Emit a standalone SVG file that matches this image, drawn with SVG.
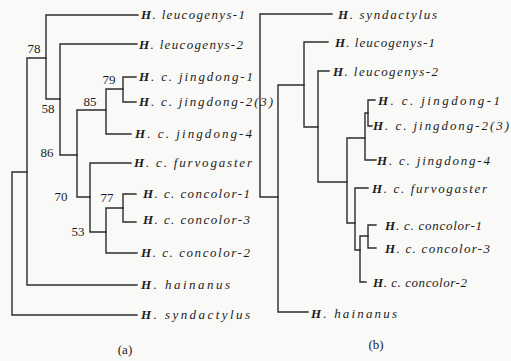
<svg xmlns="http://www.w3.org/2000/svg" width="511" height="361" viewBox="0 0 511 361">
  <style>
    .bg { fill: #f9f9f7; }
    .br { fill: none; stroke: #2b2b2b; stroke-width: 1.4; stroke-linecap: square; }
    .lab { font-family: "Liberation Serif", "Times New Roman", serif; font-style: italic; font-size: 13px; fill: #1c1c1c; }
    .lab .g { font-weight: bold; }
    .sup { font-family: "Liberation Serif", "Times New Roman", serif; font-size: 13px; fill: #1c1c1c; text-anchor: middle; }
    .cap { font-family: "Liberation Serif", "Times New Roman", serif; font-size: 13px; fill: #1c1c1c; text-anchor: middle; }
  </style>
  <rect class="bg" x="0" y="0" width="511" height="361"/>

  <!-- tree (a): branches -->
  <g id="connectors-a" class="br">
    <path d="M12,172 V315 H137 M12,172 H27"/>
    <path d="M27,58 V285 H137 M27,58 H46"/>
    <path d="M46,15 V99 H60 M46,15 H138"/>
    <path d="M60,44 V155 H77 M60,44 H137"/>
    <path d="M77,110 V197 H90 M77,110 H106"/>
    <path d="M106,89 V134 H131 M106,89 H123"/>
    <path d="M123,77 V102 H136 M123,77 H136"/>
    <path d="M90,163 V232 H106 M90,163 H131"/>
    <path d="M106,208 V253 H137 M106,208 H123"/>
    <path d="M123,194 V222 H136 M123,194 H136"/>
  </g>

  <!-- tree (a): support values -->
  <g id="support-a">
    <text class="sup" x="34" y="53">78</text>
    <text class="sup" x="48" y="113">58</text>
    <text class="sup" x="109" y="84">79</text>
    <text class="sup" x="90" y="106">85</text>
    <text class="sup" x="47" y="157">86</text>
    <text class="sup" x="61" y="201">70</text>
    <text class="sup" x="107" y="202">77</text>
    <text class="sup" x="78" y="236">53</text>
  </g>

  <!-- tree (a): leaves -->
  <g id="a-leucogenys-1"><text class="lab" x="141" y="19" textLength="104" lengthAdjust="spacing"><tspan class="g">H</tspan>. leucogenys-1</text></g>
  <g id="a-leucogenys-2"><text class="lab" x="139" y="49" textLength="104" lengthAdjust="spacing"><tspan class="g">H</tspan>. leucogenys-2</text></g>
  <g id="a-jingdong-1"><text class="lab" x="139" y="81" textLength="114" lengthAdjust="spacing"><tspan class="g">H</tspan>. c. jingdong-1</text></g>
  <g id="a-jingdong-2"><text class="lab" x="139" y="106" textLength="134" lengthAdjust="spacing"><tspan class="g">H</tspan>. c. jingdong-2(3)</text></g>
  <g id="a-jingdong-4"><text class="lab" x="135" y="138" textLength="117" lengthAdjust="spacing"><tspan class="g">H</tspan>. c. jingdong-4</text></g>
  <g id="a-furvogaster"><text class="lab" x="134" y="167" textLength="118" lengthAdjust="spacing"><tspan class="g">H</tspan>. c. furvogaster</text></g>
  <g id="a-concolor-1"><text class="lab" x="143" y="198" textLength="107" lengthAdjust="spacing"><tspan class="g">H</tspan>. c. concolor-1</text></g>
  <g id="a-concolor-3"><text class="lab" x="143" y="224" textLength="107" lengthAdjust="spacing"><tspan class="g">H</tspan>. c. concolor-3</text></g>
  <g id="a-concolor-2"><text class="lab" x="141" y="257" textLength="109" lengthAdjust="spacing"><tspan class="g">H</tspan>. c. concolor-2</text></g>
  <g id="a-hainanus"><text class="lab" x="141" y="289" textLength="89" lengthAdjust="spacing"><tspan class="g">H</tspan>. hainanus</text></g>
  <g id="a-syndactylus"><text class="lab" x="141" y="319" textLength="109" lengthAdjust="spacing"><tspan class="g">H</tspan>. syndactylus</text></g>
  <text class="cap" x="125" y="354">(a)</text>

  <!-- tree (b): branches -->
  <g id="connectors-b" class="br">
    <path d="M260,14 V197 H278 M260,14 H332"/>
    <path d="M278,85 V312 H308 M278,85 H304"/>
    <path d="M304,42 V127 H318 M304,42 H328"/>
    <path d="M318,71 V182 H347 M318,71 H329"/>
    <path d="M347,138 V223 H355 M347,138 H365"/>
    <path d="M365,113 V160 H376 M365,113 H368"/>
    <path d="M368,100 V126 H372 M368,100 H375"/>
    <path d="M355,188 V250 H360 M355,188 H368"/>
    <path d="M360,236 V282 H366 M360,236 H368"/>
    <path d="M368,225 V248 H376 M368,225 H376"/>
  </g>

  <!-- tree (b): leaves -->
  <g id="b-syndactylus"><text class="lab" x="338" y="19" textLength="99" lengthAdjust="spacing"><tspan class="g">H</tspan>. syndactylus</text></g>
  <g id="b-leucogenys-1"><text class="lab" x="335" y="47" textLength="100" lengthAdjust="spacing"><tspan class="g">H</tspan>. leucogenys-1</text></g>
  <g id="b-leucogenys-2"><text class="lab" x="333" y="76" textLength="105" lengthAdjust="spacing"><tspan class="g">H</tspan>. leucogenys-2</text></g>
  <g id="b-jingdong-1"><text class="lab" x="378" y="105" textLength="122" lengthAdjust="spacing"><tspan class="g">H</tspan>. c. jingdong-1</text></g>
  <g id="b-jingdong-2"><text class="lab" x="373" y="130" textLength="136" lengthAdjust="spacing"><tspan class="g">H</tspan>. c. jingdong-2(3)</text></g>
  <g id="b-jingdong-4"><text class="lab" x="377" y="165" textLength="113" lengthAdjust="spacing"><tspan class="g">H</tspan>. c. jingdong-4</text></g>
  <g id="b-furvogaster"><text class="lab" x="372" y="193" textLength="115" lengthAdjust="spacing"><tspan class="g">H</tspan>. c. furvogaster</text></g>
  <g id="b-concolor-1"><text class="lab" x="385" y="230" textLength="97" lengthAdjust="spacing"><tspan class="g">H</tspan>. c. concolor-1</text></g>
  <g id="b-concolor-3"><text class="lab" x="385" y="253" textLength="105" lengthAdjust="spacing"><tspan class="g">H</tspan>. c. concolor-3</text></g>
  <g id="b-concolor-2"><text class="lab" x="373" y="287" textLength="94" lengthAdjust="spacing"><tspan class="g">H</tspan>. c. concolor-2</text></g>
  <g id="b-hainanus"><text class="lab" x="311" y="318" textLength="86" lengthAdjust="spacing"><tspan class="g">H</tspan>. hainanus</text></g>
  <text class="cap" x="376" y="349">(b)</text>
</svg>
